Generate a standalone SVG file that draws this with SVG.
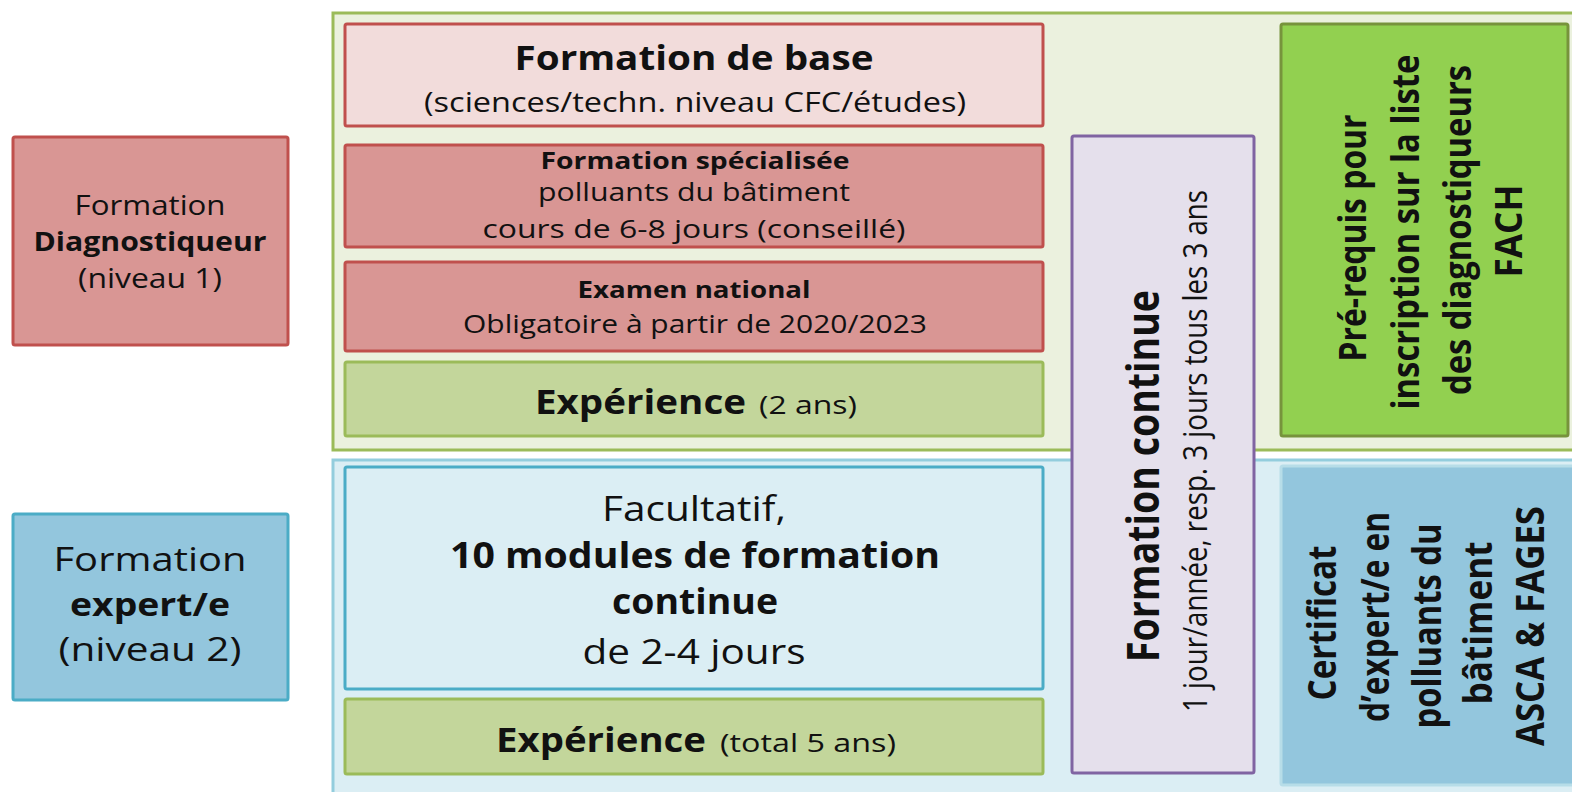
<svg xmlns="http://www.w3.org/2000/svg" width="1572" height="792" viewBox="0 0 1572 792">
<style>
text{font-family:"Open Sans","Liberation Sans",sans-serif;fill:#111;}
.b{font-weight:bold;}
.c{text-anchor:middle;}
.red{fill:#d99694;stroke:#c0504d;stroke-width:3;}
.pink{fill:#f2dcdb;stroke:#c0504d;stroke-width:3;}
.exp{fill:#c3d69b;stroke:#9bbb59;stroke-width:3;}
.lb{fill:#dbeef4;stroke:#4bacc6;stroke-width:3;}
.blue{fill:#93c6dd;stroke:#4bacc6;stroke-width:3;}
</style>
<rect width="1572" height="792" fill="#ffffff"/>
<g id="zone-niveau1"><rect x="333" y="13" width="1250" height="437" fill="#ebf1de" stroke="#9bbb59" stroke-width="3"/></g>
<g id="zone-niveau2"><rect x="333" y="460" width="1250" height="340" fill="#dbeef4" stroke="#93cddd" stroke-width="3"/></g>

<g id="niveau1">
<rect class="red" x="13" y="137" width="275" height="208" rx="2"/>
<text class="c" x="150" y="215" font-size="27" textLength="151" lengthAdjust="spacingAndGlyphs">Formation</text>
<text class="c b" x="150" y="251" font-size="27" textLength="233" lengthAdjust="spacingAndGlyphs">Diagnostiqueur</text>
<text class="c" x="150" y="288" font-size="27" textLength="144" lengthAdjust="spacingAndGlyphs">(niveau 1)</text>
</g>
<g id="niveau2">
<rect class="blue" x="13" y="514" width="275" height="186" rx="2"/>
<text class="c" x="150" y="571" font-size="33" textLength="193" lengthAdjust="spacingAndGlyphs">Formation</text>
<text class="c b" x="150" y="616" font-size="33" textLength="160" lengthAdjust="spacingAndGlyphs">expert/e</text>
<text class="c" x="150" y="661" font-size="33" textLength="183" lengthAdjust="spacingAndGlyphs">(niveau 2)</text>
</g>

<g id="formation-base">
<rect class="pink" x="345" y="24" width="698" height="102" rx="2"/>
<text class="c b" x="694" y="70" font-size="34" textLength="359" lengthAdjust="spacingAndGlyphs">Formation de base</text>
<text class="c" x="695" y="112" font-size="28" textLength="542" lengthAdjust="spacingAndGlyphs">(sciences/techn. niveau CFC/études)</text>
</g>
<g id="formation-specialisee">
<rect class="red" x="345" y="145" width="698" height="102" rx="2"/>
<text class="c b" x="695" y="169" font-size="24" textLength="309" lengthAdjust="spacingAndGlyphs">Formation spécialisée</text>
<text class="c" x="694" y="201" font-size="26" textLength="312" lengthAdjust="spacingAndGlyphs">polluants du bâtiment</text>
<text class="c" x="694" y="238" font-size="26" textLength="423" lengthAdjust="spacingAndGlyphs">cours de 6-8 jours (conseillé)</text>
</g>
<g id="examen-national">
<rect class="red" x="345" y="262" width="698" height="89" rx="2"/>
<text class="c b" x="694" y="298" font-size="24" textLength="233" lengthAdjust="spacingAndGlyphs">Examen national</text>
<text class="c" x="695" y="333" font-size="26" textLength="464" lengthAdjust="spacingAndGlyphs">Obligatoire à partir de 2020/2023</text>
</g>
<g id="experience-2ans">
<rect class="exp" x="345" y="362" width="698" height="74" rx="2"/>
<text class="b" x="535" y="414" font-size="34" textLength="211" lengthAdjust="spacingAndGlyphs">Expérience</text>
<text x="759" y="414" font-size="26" textLength="98" lengthAdjust="spacingAndGlyphs">(2 ans)</text>
</g>
<g id="modules">
<rect class="lb" x="345" y="467" width="698" height="222" rx="2"/>
<text class="c" x="694" y="521" font-size="35" textLength="184" lengthAdjust="spacingAndGlyphs">Facultatif,</text>
<text class="c b" x="695" y="568" font-size="35" textLength="490" lengthAdjust="spacingAndGlyphs">10 modules de formation</text>
<text class="c b" x="695" y="614" font-size="35" textLength="166" lengthAdjust="spacingAndGlyphs">continue</text>
<text class="c" x="694" y="664" font-size="35" textLength="223" lengthAdjust="spacingAndGlyphs">de 2-4 jours</text>
</g>
<g id="experience-5ans">
<rect class="exp" x="345" y="699" width="698" height="75" rx="2"/>
<text class="b" x="496" y="752" font-size="34" textLength="210" lengthAdjust="spacingAndGlyphs">Expérience</text>
<text x="720" y="752" font-size="26" textLength="176" lengthAdjust="spacingAndGlyphs">(total 5 ans)</text>
</g>
<g id="formation-continue">
<rect x="1072" y="136" width="182" height="637" rx="2" fill="#e5e0ec" stroke="#8064a2" stroke-width="3"/>
<text class="c b" transform="translate(1159,476) rotate(-90)" font-size="44" textLength="372" lengthAdjust="spacingAndGlyphs">Formation continue</text>
<text class="c" transform="translate(1207,451) rotate(-90)" font-size="33" textLength="522" lengthAdjust="spacingAndGlyphs">1 jour/année, resp. 3 jours tous les 3 ans</text>
</g>
<g id="prerequis">
<rect x="1281" y="24" width="287" height="412" rx="2" fill="#92d050" stroke="#77933c" stroke-width="3"/>
<text class="c b" transform="translate(1366,238) rotate(-90)" font-size="37" textLength="247" lengthAdjust="spacingAndGlyphs">Pré-requis pour</text>
<text class="c b" transform="translate(1419,232) rotate(-90)" font-size="37" textLength="355" lengthAdjust="spacingAndGlyphs">inscription sur la liste</text>
<text class="c b" transform="translate(1471,230) rotate(-90)" font-size="37" textLength="330" lengthAdjust="spacingAndGlyphs">des diagnostiqueurs</text>
<text class="c b" transform="translate(1522,231) rotate(-90)" font-size="37" textLength="93" lengthAdjust="spacingAndGlyphs">FACH</text>
</g>
<g id="certificat">
<rect x="1281" y="466" width="300" height="319" rx="2" fill="#93c6dd" stroke="#b7dde8" stroke-width="3"/>
<text class="c b" transform="translate(1336,623) rotate(-90)" font-size="39" textLength="155" lengthAdjust="spacingAndGlyphs">Certificat</text>
<text class="c b" transform="translate(1389,617) rotate(-90)" font-size="39" textLength="210" lengthAdjust="spacingAndGlyphs">d’expert/e en</text>
<text class="c b" transform="translate(1441,626) rotate(-90)" font-size="39" textLength="205" lengthAdjust="spacingAndGlyphs">polluants du</text>
<text class="c b" transform="translate(1492,623) rotate(-90)" font-size="39" textLength="163" lengthAdjust="spacingAndGlyphs">bâtiment</text>
<text class="c b" transform="translate(1544,626) rotate(-90)" font-size="39" textLength="240" lengthAdjust="spacingAndGlyphs">ASCA &amp; FAGES</text>
</g>
<g id="connectors"></g>
</svg>
